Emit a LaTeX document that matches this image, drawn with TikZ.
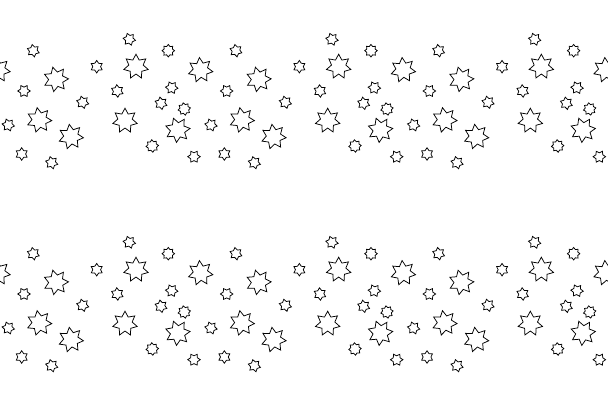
\documentclass[tikz,border=0pt]{standalone}
\usetikzlibrary{shapes.geometric}
\begin{document}
\begin{tikzpicture}[
                x=1pt, y=-1pt,
                every node/.append style={draw=black, inner sep=0pt, line width=0.75pt},
                bigstar/.style={star, star points=7, star point ratio=1.7, minimum size=25pt},
                smallstar/.style={star, star points=6, star point ratio=1.6, minimum size=12.5pt},
                roundstar/.style={star, star points=8, star point ratio=1.4, minimum size=12.5pt}
            ]
                \fill[white] (0,0) rectangle (608,406);
                \clip (0,0) rectangle (608,406);
                % one tile of stars, repeated 3 x 2
                \foreach \c in {-1,...,3}{
                    \foreach \r in {0,1}{
                        \foreach \x/\y/\kind/\rot [count=\n] in {
                            33.3/50.7/smallstar/10, 200.5/70/bigstar/5, 56/79.3/bigstar/15,
                            96.7/66.7/smallstar/0, 129.3/39.3/smallstar/20, 136/66.7/bigstar/0,
                            168.3/50.7/roundstar/0, 24/91/smallstar/30, 82.7/102.3/smallstar/15,
                            117.3/91/smallstar/5, 171.7/87.7/smallstar/25, 161/103.3/smallstar/10,
                            184.3/109/roundstar/10, 8.3/125/smallstar/20, 39.3/120/bigstar/10,
                            125/120.7/bigstar/0, 177.7/130/bigstar/20, 71/136.7/bigstar/8,
                            152.3/146/roundstar/5, 21.7/154/smallstar/0, 51.7/162.7/smallstar/15,
                            194/156.7/smallstar/30}
                            \node[\kind, shape border rotate=\rot] (star-\c-\r-\n) at ({\x+202.67*\c},{\y+203*\r}) {};
                    }
                }
            \end{tikzpicture}
\end{document}
